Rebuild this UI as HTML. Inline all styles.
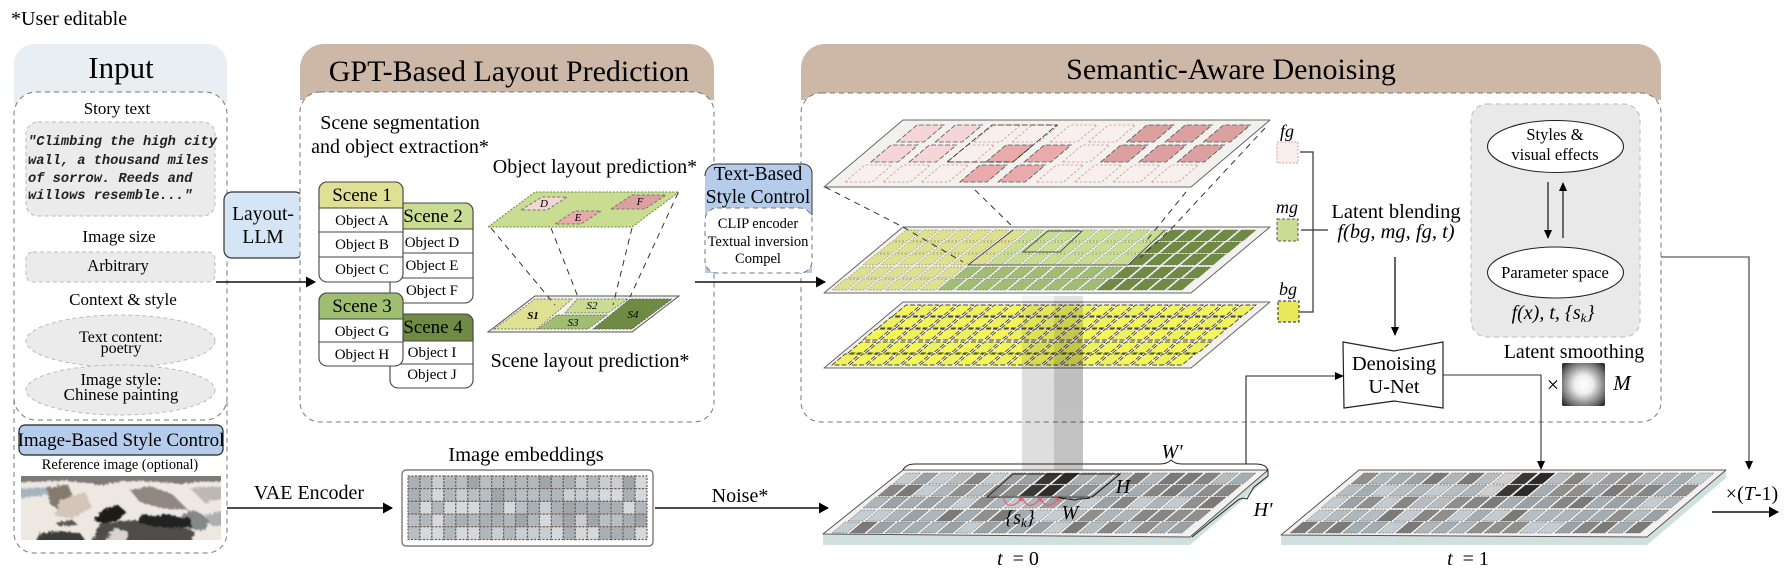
<!DOCTYPE html>
<html><head><meta charset="utf-8"><style>
html,body{margin:0;padding:0;background:#fff;width:1787px;height:572px;overflow:hidden}
svg{display:block}
text{font-family:"Liberation Serif",serif;fill:#000;text-anchor:middle}
.l{text-anchor:start}
.i{font-style:italic}
.hand{font-family:"Liberation Mono",monospace;font-weight:bold;font-style:italic;font-size:13.7px;text-anchor:start;fill:#222}
</style></head><body>
<svg xmlns="http://www.w3.org/2000/svg" width="1787" height="572" viewBox="0 0 1787 572">
<defs>
<marker id="a" markerWidth="10" markerHeight="10" refX="8" refY="4" orient="auto" markerUnits="userSpaceOnUse"><path d="M0 0L9 4L0 8z" fill="#000"/></marker>
<marker id="ab" markerWidth="12" markerHeight="12" refX="9" refY="5.5" orient="auto" markerUnits="userSpaceOnUse"><path d="M0 0L10 5.5L0 11z" fill="#000"/></marker>
<linearGradient id="c1" x1="0" y1="0" x2="0" y2="1"><stop offset="0" stop-color="#e8e8e8" stop-opacity=".5"/><stop offset=".45" stop-color="#dedede"/><stop offset="1" stop-color="#dedede"/></linearGradient>
<linearGradient id="c2" x1="0" y1="0" x2="0" y2="1"><stop offset="0" stop-color="#cfcfcf" stop-opacity=".6"/><stop offset=".45" stop-color="#bfbfbf"/><stop offset="1" stop-color="#c4c4c4"/></linearGradient>
<radialGradient id="m" cx=".5" cy=".5" r=".72"><stop offset="0" stop-color="#fff"/><stop offset=".3" stop-color="#eee"/><stop offset=".7" stop-color="#777"/><stop offset="1" stop-color="#0c0c14"/></radialGradient>
<filter id="rough" x="-5%" y="-5%" width="110%" height="110%"><feTurbulence type="fractalNoise" baseFrequency=".35" numOctaves="3" seed="4" result="n"/><feDisplacementMap in="SourceGraphic" in2="n" scale="5"/><feGaussianBlur stdDeviation=".7"/></filter>
<clipPath id="pc"><rect x="21" y="476" width="200" height="64"/></clipPath>
</defs>

<text class="l" x="11" y="25" font-size="20">*User editable</text>

<!-- Input -->
<path d="M14 92V64a20 20 0 0 1 20-20H207a20 20 0 0 1 20 20V92z" fill="#e9eef2"/>
<rect x="14" y="84" width="213" height="20" fill="#e9eef2"/>
<rect x="14" y="92" width="213" height="328" rx="22" fill="#fff" stroke="#777" stroke-dasharray="5 4"/>
<path d="M14 400V533a20 20 0 0 0 20 20H207a20 20 0 0 0 20-20V400" fill="none" stroke="#777" stroke-dasharray="5 4"/>
<text x="121" y="78" font-size="31">Input</text>
<text x="117" y="114" font-size="17">Story text</text>
<rect x="26" y="122" width="189" height="94" rx="12" fill="#ebebeb" stroke="#bbb" stroke-dasharray="4 3"/>
<text class="hand" x="28" y="145">"Climbing the high city</text>
<text class="hand" x="28" y="164">wall, a thousand miles</text>
<text class="hand" x="28" y="182">of sorrow. Reeds and</text>
<text class="hand" x="28" y="199">willows resemble..."</text>
<text x="119" y="242" font-size="17">Image size</text>
<rect x="26" y="252" width="189" height="30" rx="7" fill="#ebebeb" stroke="#bbb" stroke-dasharray="4 3"/>
<text x="118" y="271" font-size="16.500">Arbitrary</text>
<text x="123" y="305" font-size="17">Context &amp; style</text>
<ellipse cx="120.500" cy="341" rx="94.500" ry="26" fill="#ebebeb" stroke="#bbb" stroke-dasharray="4 3"/>
<ellipse cx="120.500" cy="390" rx="94.500" ry="25" fill="#ebebeb" stroke="#bbb" stroke-dasharray="4 3"/>
<text x="121" y="342" font-size="16">Text content:</text>
<text x="121" y="353" font-size="16">poetry</text>
<text x="121" y="385" font-size="16.500">Image style:</text>
<text x="121" y="400" font-size="17">Chinese painting</text>
<rect x="19" y="425" width="204" height="30" rx="6" fill="#b5cdea" stroke="#222" stroke-width="1.200"/>
<text x="121" y="446" font-size="19">Image-Based Style Control</text>
<text x="120" y="469" font-size="14.300">Reference image (optional)</text>

<!-- painting -->
<g clip-path="url(#pc)">
<rect x="21" y="476" width="200" height="64" fill="#eee8e3"/>
<g filter="url(#rough)">
<path d="M10 470H230V482L205 481L180 484L150 481L125 481L100 485L70 481L40 481L10 483z" fill="#7d7a78"/>
<path d="M10 489L50 487L56 494L20 498L10 496z" fill="#a6b5bd"/>
<path d="M47 488L68 484L74 500L62 512L50 504z" fill="#857a6e"/>
<path d="M60 500L85 492L92 508L72 518L55 516z" fill="#d3c5b7"/>
<path d="M130 490L150 486L172 494L188 510L160 508L140 502z" fill="#908880"/>
<path d="M190 488L225 486V498L205 503z" fill="#bdb8b4"/>
<path d="M180 515L195 510L210 520L205 530L188 530z" fill="#85888a"/>
<path d="M205 515L228 510V526L212 526z" fill="#adaeaf"/>
<path d="M90 545L100 524L130 520L150 522L175 524L195 532L190 545z" fill="#4f4d4a"/>
<path d="M94 520L104 509L118 505L126 512L118 520L104 524z" fill="#1b1b19"/>
<path d="M137 522L142 514L156 516L168 514L180 518L190 517L192 527L170 528L150 526z" fill="#242321"/>
<path d="M102 545L115 528L128 532L125 545z" fill="#d9d4cf"/>
<path d="M34 545L40 533L60 531L80 533L88 545z" fill="#3e3c39"/>
<path d="M55 523L72 520L78 525L60 526z" fill="#5b5853"/>
</g>
</g>

<!-- Layout LLM -->
<rect x="224" y="192" width="79" height="66" rx="8" fill="#d5e5f5" stroke="#333" stroke-width="1.200"/>
<text x="263" y="220" font-size="19.500">Layout-</text>
<text x="263" y="243" font-size="19.500">LLM</text>

<!-- GPT panel -->
<path d="M300 100V68a24 24 0 0 1 24-24H690a24 24 0 0 1 24 24V100z" fill="#cdb7a6"/>
<rect x="300" y="92" width="414" height="330" rx="20" fill="#fff" stroke="#777" stroke-dasharray="5 4"/>
<text x="509" y="81" font-size="30">GPT-Based Layout Prediction</text>
<text x="400" y="129" font-size="20">Scene segmentation</text>
<text x="400" y="153" font-size="20">and object extraction*</text>
<path d="M216 282H315" stroke="#111" stroke-width="1.500" marker-end="url(#ab)" fill="none"/>

<!-- scene tables -->
<g stroke="#444" stroke-width="1.100">
<rect x="390" y="203" width="83" height="100" rx="8" fill="#fff"/>
<path d="M390 229V211a8 8 0 0 1 8-8H465a8 8 0 0 1 8 8V229z" fill="#c9dd92"/>
<path d="M390 253H473M390 278H473" fill="none"/>
<rect x="390" y="314" width="83" height="74" rx="8" fill="#fff"/>
<path d="M390 341V322a8 8 0 0 1 8-8H465a8 8 0 0 1 8 8V341z" fill="#6f8a42"/>
<path d="M390 364H473" fill="none"/>
<rect x="319" y="182" width="84" height="100" rx="8" fill="#fff"/>
<path d="M319 208V190a8 8 0 0 1 8-8H395a8 8 0 0 1 8 8V208z" fill="#dfe094"/>
<path d="M319 232H403M319 257H403" fill="none"/>
<rect x="319" y="293" width="84" height="73" rx="8" fill="#fff"/>
<path d="M319 319V301a8 8 0 0 1 8-8H395a8 8 0 0 1 8 8V319z" fill="#9fbe72"/>
<path d="M319 342H403" fill="none"/>
</g>
<g font-size="19">
<text x="362" y="201">Scene 1</text><text x="433" y="222">Scene 2</text>
<text x="362" y="312">Scene 3</text><text x="433" y="333">Scene 4</text>
</g>
<g font-size="15">
<text x="362" y="225">Object A</text><text x="362" y="249">Object B</text><text x="362" y="274">Object C</text>
<text x="432" y="247">Object D</text><text x="432" y="270">Object E</text><text x="432" y="295">Object F</text>
<text x="362" y="336">Object G</text><text x="362" y="359">Object H</text>
<text x="432" y="357">Object I</text><text x="432" y="379">Object J</text>
</g>

<!-- layout planes -->
<text x="595" y="173" font-size="20">Object layout prediction*</text>
<polygon points="488,227 535,192 679,192 632,227" fill="#c9dd92" stroke="#6a8a3a" stroke-dasharray="2 1.500"/>
<polygon points="521,210 542,197 567,197 547,210" fill="#f6d5d6" stroke="#777" stroke-dasharray="3 2"/>
<polygon points="555,224 575,211 601,211 581,224" fill="#e8aaaa" stroke="#777" stroke-dasharray="3 2"/>
<polygon points="611,209 632,195 666,195 645,209" fill="#dda0a0" stroke="#777" stroke-dasharray="3 2"/>
<g font-size="11" class="i"><text x="544" y="207">D</text><text x="578" y="221">E</text><text x="640" y="205">F</text></g>
<polygon points="488,332 535,296 679,296 632,332" fill="#f4f2ee" stroke="#555"/>
<g stroke="#555" stroke-dasharray="2 1.500" stroke-width=".7">
<polygon points="494,329 535,299 572,299 537,329" fill="#dfe094"/>
<polygon points="565,313 577,299 628,299 608,313" fill="#c9dd92"/>
<polygon points="538,329 557,315 607,315 588,329" fill="#9fbe72"/>
<polygon points="593,329 630,299 672,299 632,329" fill="#6f8a42"/>
</g>
<g font-size="11" class="i"><text x="533" y="319" font-weight="bold">S1</text><text x="592" y="309">S2</text><text x="573" y="326">S3</text><text x="633" y="318">S4</text></g>
<g stroke="#333" stroke-dasharray="6 5" fill="none"><path d="M491 228L555 305M551 228L578 297M632 228L613 305M678 193L630 297"/></g>
<text x="590" y="367" font-size="20">Scene layout prediction*</text>

<!-- Semantic panel -->
<path d="M801 100V68a24 24 0 0 1 24-24H1637a24 24 0 0 1 24 24V100z" fill="#cdb7a6"/>
<rect x="801" y="93" width="860" height="329" rx="20" fill="#fff" stroke="#777" stroke-dasharray="5 4"/>
<text x="1231" y="79" font-size="30">Semantic-Aware Denoising</text>

<!-- Text style box -->
<path d="M705 273V176a12 12 0 0 1 12-12H803a9 9 0 0 1 9 9V273z" fill="#b5cdea"/>
<path d="M705 176a12 12 0 0 1 12-12H803a9 9 0 0 1 9 9V215" fill="none" stroke="#333"/>
<rect x="705" y="208" width="107" height="65" rx="12" fill="#fff" stroke="#777" stroke-dasharray="5 4"/>
<text x="758" y="180" font-size="19.500">Text-Based</text>
<text x="758" y="203" font-size="19.500">Style Control</text>
<text x="758" y="228" font-size="14.500">CLIP encoder</text>
<text x="758" y="246" font-size="14.500">Textual inversion</text>
<text x="758" y="263" font-size="14.500">Compel</text>
<path d="M695 282H825" stroke="#111" stroke-width="1.500" marker-end="url(#ab)" fill="none"/>

<!-- layers -->
<polygon points="824,187 903,120 1270,120 1191,187" fill="#f3f1ed" stroke="#666" stroke-linejoin="round"/>
<g id="fg"></g>
<polygon points="824,293 903,227 1270,227 1191,293" fill="#f3f1ed" stroke="#666" stroke-linejoin="round"/>
<g id="mg"></g>
<polygon points="824,368 903,302 1270,302 1191,368" fill="#f3f1ed" stroke="#666" stroke-linejoin="round"/>
<g id="bg"></g>
<polygon points="947,162 992,125 1057,125 1013,162" fill="none" stroke="#222" stroke-width=".8" stroke-dasharray="6 2"/>
<g stroke="#333" stroke-width=".8" fill="none">
<path d="M1013 230L968 265H1128L1165 230"/>
<path d="M1023 252L1048 231H1082L1060 252z"/>
</g>
<g stroke="#333" stroke-dasharray="6 5" fill="none">
<path d="M825 187L903 227L963 262M975 190L1014 228M1186 192L1147 240M1265 128L1173 227L1140 258"/>
</g>

<rect x="1022" y="296" width="32" height="178" fill="url(#c1)" style="mix-blend-mode:multiply"/>
<rect x="1054" y="296" width="29" height="178" fill="url(#c2)" style="mix-blend-mode:multiply"/>

<!-- legends -->
<text x="1287" y="137" class="i" font-size="18">fg</text>
<rect x="1277" y="142" width="21" height="21" fill="#f8eeec" stroke="#e0a098" stroke-dasharray="2 1.500"/>
<text x="1287" y="213" class="i" font-size="18">mg</text>
<rect x="1277" y="219" width="21" height="22" fill="#c9dd92" stroke="#555" stroke-dasharray="3 2"/>
<text x="1288" y="295" class="i" font-size="18">bg</text>
<rect x="1278" y="301" width="21" height="21" fill="#eae85a" stroke="#222" stroke-dasharray="3 2"/>
<path d="M1300 152H1313V312H1300M1301 230H1328" fill="none" stroke="#333" stroke-width="1.200"/>
<text x="1396" y="218" font-size="20.500">Latent blending</text>
<text x="1396" y="238" class="i" font-size="20.500">f(bg, mg, fg, t)</text>
<path d="M1395 257V335" stroke="#111" stroke-width="1.300" marker-end="url(#a)" fill="none"/>

<polygon points="1343,342 1394,351 1443,342 1443,408 1394,401 1344,408" fill="#fff" stroke="#222" stroke-width="1.200"/>
<text x="1394" y="370" font-size="20.500">Denoising</text>
<text x="1394" y="393" font-size="20.500">U-Net</text>
<path d="M1246 464V376H1343" stroke="#222" stroke-width="1.100" marker-end="url(#a)" fill="none"/>
<path d="M1443 375H1541V469" stroke="#333" stroke-width="1.100" marker-end="url(#a)" fill="none"/>
<path d="M1661 257H1749V469" stroke="#333" stroke-width="1.100" marker-end="url(#a)" fill="none"/>

<!-- gray panel -->
<rect x="1471" y="104" width="169" height="233" rx="16" fill="#e9e9e9" stroke="#bbb" stroke-dasharray="5 4"/>
<ellipse cx="1555.500" cy="146.500" rx="68" ry="26" fill="#fff" stroke="#222" stroke-width="1.100"/>
<text x="1555" y="140" font-size="16.500">Styles &amp;</text>
<text x="1555" y="160" font-size="16.500">visual effects</text>
<ellipse cx="1555.500" cy="272.500" rx="68" ry="25.500" fill="#fff" stroke="#222" stroke-width="1.100"/>
<text x="1555" y="278" font-size="16.500">Parameter space</text>
<path d="M1548 182V238" stroke="#111" stroke-width="1.200" marker-end="url(#a)" fill="none"/>
<path d="M1563 238V183" stroke="#111" stroke-width="1.200" marker-end="url(#a)" fill="none"/>
<text x="1553" y="319" class="i" font-size="20">f(x), t, {s<tspan font-size="13" dy="3">k</tspan><tspan dy="-3">}</tspan></text>
<text x="1574" y="358" font-size="20">Latent smoothing</text>
<text x="1553" y="392" font-size="22">×</text>
<rect x="1562" y="363" width="43" height="43" rx="2" fill="url(#m)"/>
<text x="1622" y="390" class="i" font-size="21">M</text>

<!-- embeddings -->
<text x="526" y="461" font-size="20.500">Image embeddings</text>
<rect x="402" y="470" width="251" height="76" rx="4" fill="#fff" stroke="#666" stroke-width="1.200"/>
<g id="emb"></g>
<text x="309" y="499" font-size="20">VAE Encoder</text>
<path d="M227 508H392" stroke="#111" stroke-width="1.500" marker-end="url(#ab)" fill="none"/>
<text x="740" y="502" font-size="20">Noise*</text>
<path d="M655 508H828" stroke="#111" stroke-width="1.500" marker-end="url(#ab)" fill="none"/>

<!-- t planes -->
<polygon points="823,534 823,545 1190,545 1268,478 1268,470 1190,537" fill="#cfe0df"/>
<polygon points="823,534 903,470 1268,470 1190,537" fill="#f3f1ed" stroke="#555" stroke-linejoin="round"/>
<g id="t0"></g>
<polygon points="987,497 1013,474 1120,474 1092,497" fill="none" stroke="#222" stroke-width=".9"/>
<polygon points="1281,535 1281,545 1647,545 1726,478 1726,470 1647,537" fill="#cfe0df"/>
<polygon points="1281,535 1359,470 1726,470 1647,537" fill="#f3f1ed" stroke="#555" stroke-linejoin="round"/>
<g id="t1"></g>

<g fill="none" stroke="#e8606a" stroke-width="1.200">
<path d="M1003 497Q1006 507 1013 505Q1019 503 1021 498"/>
<path d="M1022 497Q1026 507 1032 505Q1038 503 1040 498"/>
<path d="M1040 497Q1044 507 1050 505Q1056 503 1058 498"/>
</g>
<path d="M1018 499L1023 497L1022 502zM1037 499L1042 497L1041 502zM1055 499L1060 497L1059 502z" fill="#e8606a"/>
<text x="1020" y="524" class="i" font-size="20">{s<tspan font-size="13" dy="3">k</tspan><tspan dy="-3">}</tspan></text>
<text x="1070" y="519" class="i" font-size="20">W</text>
<text x="1123" y="493" class="i" font-size="20">H</text>
<path d="M1058 497Q1062 499 1070 499Q1076 501 1078 499Q1084 499 1090 498" fill="none" stroke="#111"/>
<path d="M1092 497L1120 474" stroke="#111" fill="none"/>
<path d="M903 470Q906 464 915 464H1160Q1167 464 1171 460Q1175 464 1182 464H1255Q1268 464 1268 472L1268 476L1254 487Q1249 495 1247 499Q1243 497 1238 500L1192 537" fill="none" stroke="#222"/>
<text x="1172" y="458" class="i" font-size="20">W'</text>
<text x="1263" y="516" class="i" font-size="20">H'</text>
<text x="1018" y="565" font-size="20" xml:space="preserve"><tspan font-style="italic">t</tspan>  = 0</text>
<text x="1468" y="565" font-size="20" xml:space="preserve"><tspan font-style="italic">t</tspan>  = 1</text>
<text x="1752" y="500" font-size="20">×(<tspan font-style="italic">T</tspan>-1)</text>
<path d="M1712 512H1778" stroke="#111" stroke-width="1.500" marker-end="url(#ab)" fill="none"/>
</svg>
<script>
(function(){
var NS='http://www.w3.org/2000/svg';
function P(g,x,y,w,h,sk,fill,stroke,dash,sw){var p=document.createElementNS(NS,'polygon');
p.setAttribute('points',[x+','+y,(x+sk)+','+(y-h),(x+sk+w)+','+(y-h),(x+w)+','+y].join(' '));
p.setAttribute('fill',fill);p.setAttribute('stroke',stroke);p.setAttribute('stroke-dasharray',dash);p.setAttribute('stroke-width',sw);g.appendChild(p);}
var F=document.getElementById('fg');
var a='#f6d5d6',l='#f8f0ee',m='#e8aaaa',d='#dda0a0';
var rows=[[a,a,l,l,l,l,d,d,d],[a,a,l,m,m,l,d,d,d],[l,l,l,m,m,l,l,l,l]];
var st=[897,871,845],by=[142,162,182];
rows.forEach(function(r,i){r.forEach(function(c,j){P(F,st[i]+j*38.3,by[i],27,17,20,c,c==l?'#dd8f85':'#555',c==l?'2.500 2':'5 2',.8);});});
var bots=[14,26,38,51,63],sx=[893,878,863,848,832];
var M=document.getElementById('mg'),B=document.getElementById('bg');
for(var i=0;i<5;i++)for(var j=0;j<20;j++){var c;
 if(j>=15)c='#6f8a42';else if(i<3)c=j<7?'#dde08f':'#c9dd92';else c=j<6?'#dde08f':'#9fbe72';
 P(M,sx[i]+j*17.65,227+bots[i],14.7,11,13,c,'#666','2 1.500',.5);
 P(B,sx[i]+j*17.65,302+bots[i],14.7,11,13,(i+j)%3==1?'#eef060':'#f4f55a','#111','5 2',.7);
}
var seed=7;function R(){seed=(seed*1103515245+12345)&0x7fffffff;return (seed>>8)/8388607;}
var gr=['#7a7a7a','#8f8f8f','#9aa2a8','#adb6bc','#c3ccd3','#868686','#a3adb4','#b5bdc2'];
function T(id,dx,dark){var g=document.getElementById(id);
 for(var i=0;i<5;i++)for(var j=0;j<20;j++){var c=gr[Math.floor(R()*gr.length)];
  if(i<2&&dark(i,j))c=dark(i,j);
  P(g,dx+sx[i]+j*17.65,470+bots[i],14.7,11,13,c,'#665f58','2 1.200',.5);}
}
T('t0',0,function(i,j){if(j==6||j==7)return i==0?'#9aa2a8':'#8a8a8a';if(j==8||j==9)return j==9?'#2c2c2c':'#383838';if(j==10||j==11)return i==0?'#a8b0b5':'#8f9599';return null;});
T('t1',458,function(i,j){if(j==8)return'#cfcfcf';if(j==9)return'#383838';if(j==10)return'#2a2a2a';return null;});
var E=document.getElementById('emb');var eg=['#b0b8bd','#c8ced2','#a0a5a8','#d5d9dc','#b8bfc4','#a8b0b5'];
for(var i=0;i<5;i++)for(var j=0;j<20;j++){var r=document.createElementNS(NS,'rect');
 r.setAttribute('x',408+j*11.95);r.setAttribute('y',476+i*12.7);r.setAttribute('width',11.95);r.setAttribute('height',12.7);
 r.setAttribute('fill',eg[Math.floor(R()*eg.length)]);r.setAttribute('stroke','#6b5a50');r.setAttribute('stroke-dasharray','2 1.500');r.setAttribute('stroke-width','1.200');E.appendChild(r);}
})();
</script>
</body></html>
